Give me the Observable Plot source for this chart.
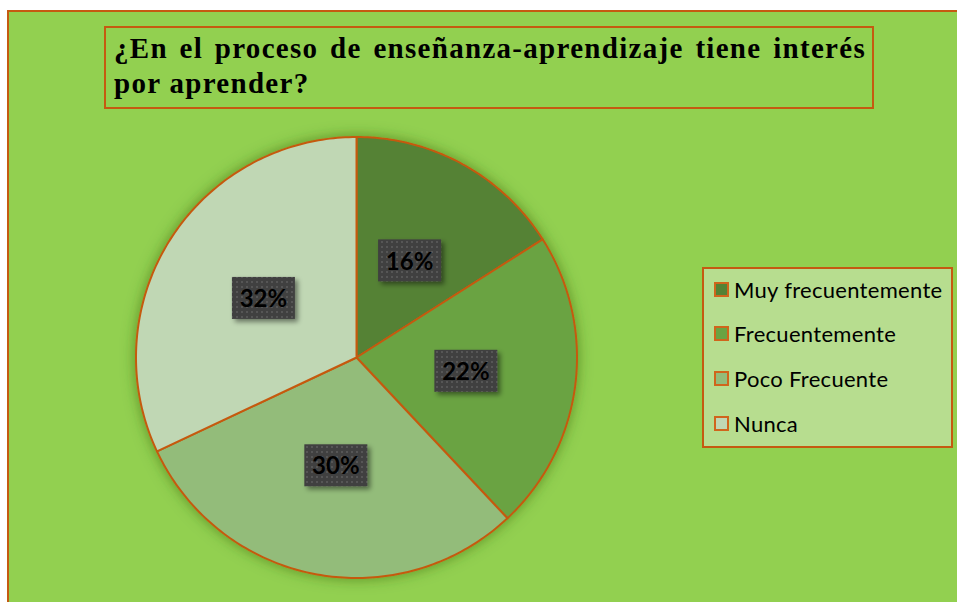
<!DOCTYPE html>
<html>
<head>
<meta charset="utf-8">
<script src="https://cdn.jsdelivr.net/npm/d3@7"></script>
<script src="https://cdn.jsdelivr.net/npm/@observablehq/plot@0.6"></script>
<style>
  html, body { margin: 0; padding: 0; background: #fff; }
  #wrap { position: relative; width: 957px; height: 602px; overflow: hidden; background: #fff; }
  #frame { position: absolute; left: 7px; top: 10px; width: 980px; height: 620px; background: #92d050;
           border-left: 2px solid #c55a11; border-top: 2px solid #c55a11; box-sizing: border-box; }
  #title { position: absolute; left: 104px; top: 26px; width: 770px; height: 83px; box-sizing: border-box;
           border: 2px solid #c55a11; padding: 3px 6px 0 8px; background: #92d050;
           font-family: "Liberation Serif", "Times New Roman", serif; font-weight: bold; font-size: 29px;
           letter-spacing: 1.3px; line-height: 35px; color: #000; }
  #title .l { white-space: nowrap; }
  #title .j { text-align: justify; text-align-last: justify; white-space: normal; }
  #chart { position: absolute; left: 0; top: 0; }
  #legend { position: absolute; left: 702px; top: 267px; width: 251px; height: 181px; box-sizing: border-box;
            border: 2px solid #c55a11; background: #b7dd8f; }
  .item { position: absolute; left: 10px; height: 24px; display: flex; align-items: center;
          font-family: Lato, "Open Sans", sans-serif; font-size: 22px; letter-spacing: 0.3px; color: #000; white-space: nowrap; }
  .sw { width: 11px; height: 11px; border: 2px solid #d0651c; margin-right: 5px; flex: none; }
</style>
</head>
<body>
<div id="wrap">
  <div id="frame"></div>
  <div id="title"></div>
  <div id="chart"></div>
  <div id="legend"></div>
</div>
<script>
const titleLines = ["¿En el proceso de enseñanza-aprendizaje tiene interés", "por aprender?"];
const categories = ["Muy frecuentemente", "Frecuentemente", "Poco Frecuente", "Nunca"];
const values = [16, 22, 30, 32];
const colors = ["#548235", "#6aa343", "#93bc7a", "#c0d7b4"];

const titleEl = document.getElementById("title");
titleLines.forEach((t, i) => {
  const d = document.createElement("div");
  d.className = i < titleLines.length - 1 ? "j" : "l";
  d.textContent = t;
  titleEl.appendChild(d);
});

// pie geometry from data (clockwise from 12 o'clock)
const arcs = d3.pie().sort(null).value(d => d.v)(categories.map((c, i) => ({c, v: values[i]})));
const pts = [];
arcs.forEach(a => {
  pts.push({c: a.data.c, x: 0, y: 0});
  const n = Math.max(2, Math.ceil((a.endAngle - a.startAngle) / (Math.PI / 180)));
  for (let k = 0; k <= n; k++) {
    const t = a.startAngle + (a.endAngle - a.startAngle) * k / n;
    pts.push({c: a.data.c, x: Math.sin(t), y: Math.cos(t)});
  }
});
const labels = arcs.map(a => {
  const m = (a.startAngle + a.endAngle) / 2;
  return {c: a.data.c, v: a.data.v, x: 0.5 * Math.sin(m), y: 0.5 * Math.cos(m)};
});

const plot = Plot.plot({
  width: 957,
  height: 602,
  margin: 0,
  style: {background: "transparent", overflow: "visible"},
  x: {axis: null, domain: [-1, 1], range: [135.5, 576.5]},
  y: {axis: null, domain: [-1, 1], range: [577.5, 136.5]},
  color: {domain: categories, range: colors},
  marks: [
    Plot.line(pts, {x: "x", y: "y", z: "c", fill: "c", stroke: "#c55a11", strokeWidth: 2, strokeLinejoin: "round", curve: "linear-closed"}),
    Plot.rect(labels, {x1: "x", x2: "x", y1: "y", y2: "y", insetLeft: -31, insetRight: -32, insetTop: -21, insetBottom: -21, fill: "url(#dots)"}),
    Plot.text(labels, {x: "x", y: "y", text: d => d.v + "%", fontSize: 24, fontWeight: "bold", fontFamily: "Lato, sans-serif", fill: "#000", dy: 1})
  ]
});

const ns = "http://www.w3.org/2000/svg";
const defs = document.createElementNS(ns, "defs");
defs.innerHTML = `
  <pattern id="dots" width="5" height="5" patternUnits="userSpaceOnUse">
    <rect width="5" height="5" fill="#3f3f3f"/>
    <rect x="1" y="1" width="2" height="2" fill="#575757"/>
  </pattern>
  <filter id="pieShadow" x="-20%" y="-20%" width="140%" height="140%">
    <feDropShadow dx="0" dy="0" stdDeviation="7" flood-color="#2f5a14" flood-opacity="0.55"/>
  </filter>
  <filter id="boxShadow" x="-30%" y="-30%" width="160%" height="160%">
    <feDropShadow dx="3" dy="3" stdDeviation="2.5" flood-color="#000" flood-opacity="0.45"/>
  </filter>`;
plot.insertBefore(defs, plot.firstChild);
const lineG = plot.querySelector("g[aria-label='line']");
if (lineG) lineG.setAttribute("filter", "url(#pieShadow)");
const rectG = plot.querySelector("g[aria-label='rect']");
if (rectG) rectG.setAttribute("filter", "url(#boxShadow)");
document.getElementById("chart").appendChild(plot);

const legend = document.getElementById("legend");
categories.forEach((c, i) => {
  const it = document.createElement("div");
  it.className = "item";
  it.style.top = (8 + i * 44.7) + "px";
  const sw = document.createElement("span");
  sw.className = "sw";
  sw.style.background = colors[i];
  const tx = document.createElement("span");
  tx.textContent = c;
  it.appendChild(sw);
  it.appendChild(tx);
  legend.appendChild(it);
});
</script>
</body>
</html>
